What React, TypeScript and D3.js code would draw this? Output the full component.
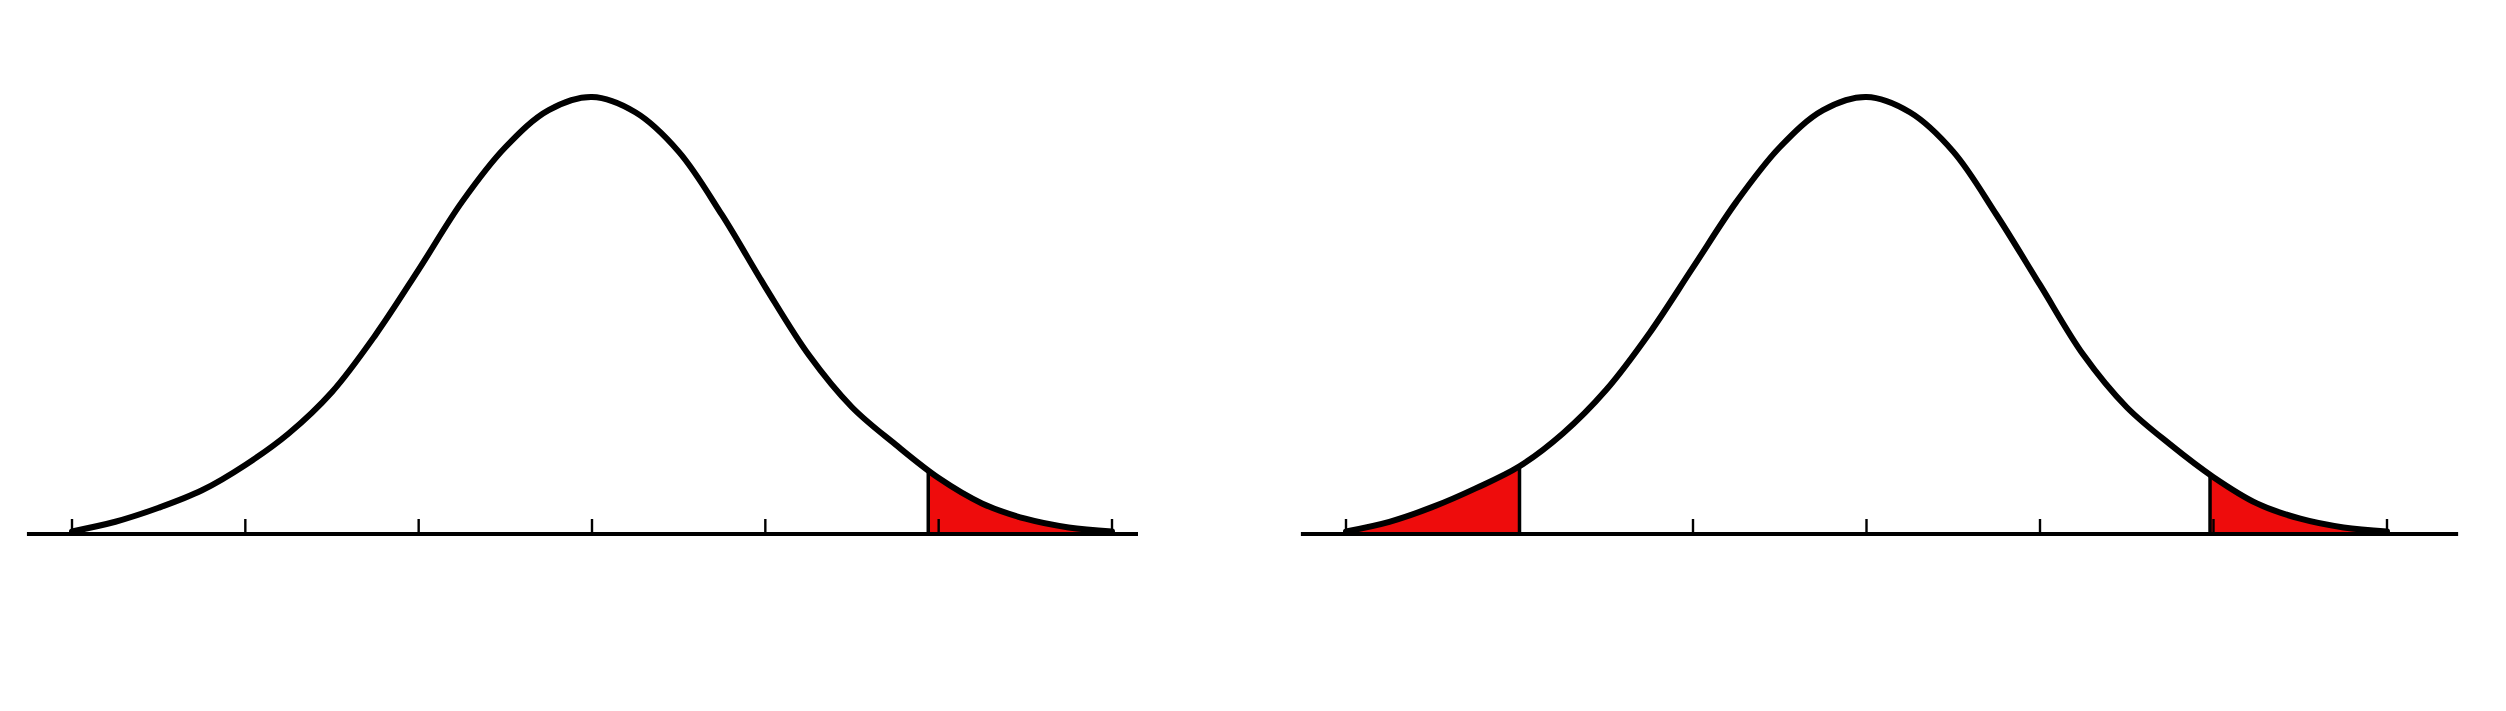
import React, { useEffect, useRef } from 'react';
import * as d3 from 'd3';

// standard deviations along the axis
const SD_TICKS = [-3, -2, -1, 0, 1, 2, 3];
const CURVE_X = [-3, -2.75, -2.5, -2.25, -2, -1.75, -1.5, -1.25, -1, -0.75, -0.5, -0.25, 0,
    0.25, 0.5, 0.75, 1, 1.25, 1.5, 1.75, 2, 2.25, 2.5, 2.75, 3];
// curve height relative to peak
const LEFT_CURVE = [0.006, 0.028, 0.06, 0.1, 0.158, 0.23, 0.325, 0.455, 0.605, 0.76, 0.885, 0.97, 1,
    0.965, 0.875, 0.73, 0.565, 0.41, 0.29, 0.205, 0.128, 0.07, 0.035, 0.015, 0.006];
const RIGHT_CURVE = [0.006, 0.028, 0.062, 0.105, 0.155, 0.23, 0.33, 0.46, 0.61, 0.76, 0.885, 0.97, 1,
    0.965, 0.875, 0.73, 0.57, 0.41, 0.29, 0.205, 0.13, 0.07, 0.035, 0.015, 0.006];
// shaded tails: [from, to]
const LEFT_TAILS = [[1.94, 3.2]];
const RIGHT_TAILS = [[-3.2, -2.0], [1.98, 3.2]];

const RED = '#ee0c0c';

export default function App() {
    const svgRef = useRef<SVGSVGElement>(null);

    useEffect(() => {
        document.body.style.margin = '0';
        if (!svgRef.current) return;
        const svg = d3.select(svgRef.current);
        svg.selectAll('*').remove();

        const panels = [
            { id: 'l', range: [72, 1112], axis: [-3.26, 3.15], curve: LEFT_CURVE, tails: LEFT_TAILS },
            { id: 'r', range: [1346, 2387], axis: [-3.26, 3.41], curve: RIGHT_CURVE, tails: RIGHT_TAILS },
        ];

        const y = d3.scaleLinear().domain([0, 1]).range([534, 97]);

        panels.forEach(p => {
            const x = d3.scaleLinear().domain([-3, 3]).range(p.range);
            const g = svg.append('g');
            const pts = CURVE_X.map((v, i) => [v, p.curve[i]] as [number, number]);
            const heightAt = (v: number) => {
                const i = Math.max(0, Math.min(CURVE_X.length - 2, Math.floor((v + 3) / 0.25)));
                const t = (v - CURVE_X[i]) / (CURVE_X[i + 1] - CURVE_X[i]);
                return p.curve[i] + t * (p.curve[i + 1] - p.curve[i]);
            };

            const area = d3.area<[number, number]>()
                .x(d => x(d[0])).y0(y(0)).y1(d => y(d[1]))
                .curve(d3.curveCatmullRom.alpha(0.5));
            const line = d3.line<[number, number]>()
                .x(d => x(d[0])).y(d => y(d[1]))
                .curve(d3.curveCatmullRom.alpha(0.5));

            // shaded tails
            p.tails.forEach((t, k) => {
                const clipId = `clip-${p.id}-${k}`;
                svg.append('clipPath').attr('id', clipId)
                    .append('rect')
                    .attr('x', x(Math.max(t[0], -3)))
                    .attr('y', 0)
                    .attr('width', x(Math.min(t[1], 3)) - x(Math.max(t[0], -3)))
                    .attr('height', 711);
                g.append('path')
                    .attr('d', area(pts))
                    .attr('fill', RED)
                    .attr('clip-path', `url(#${clipId})`);
            });

            // axis line
            g.append('line')
                .attr('x1', x(p.axis[0])).attr('x2', x(p.axis[1]))
                .attr('y1', y(0)).attr('y2', y(0))
                .attr('stroke', '#000').attr('stroke-width', 4);

            // ticks
            g.selectAll('.tick')
                .data(SD_TICKS)
                .enter()
                .append('line')
                .attr('x1', d => x(d)).attr('x2', d => x(d))
                .attr('y1', y(0)).attr('y2', y(0) - 15)
                .attr('stroke', '#000').attr('stroke-width', 2.4);

            // cut lines
            p.tails.forEach(t => {
                const c = t[0] > -3 ? t[0] : t[1];
                g.append('line')
                    .attr('x1', x(c)).attr('x2', x(c))
                    .attr('y1', y(0) + 2).attr('y2', y(heightAt(c)))
                    .attr('stroke', '#000').attr('stroke-width', 3.5);
            });

            // the bell
            g.append('path')
                .attr('d', line(pts))
                .attr('fill', 'none')
                .attr('stroke', '#000')
                .attr('stroke-width', 6)
                .attr('stroke-linejoin', 'round')
                .attr('stroke-linecap', 'round');
        });
    }, []);

    return <svg ref={svgRef} width={2506} height={711} style={{ display: 'block', background: '#fff' }} />;
}
